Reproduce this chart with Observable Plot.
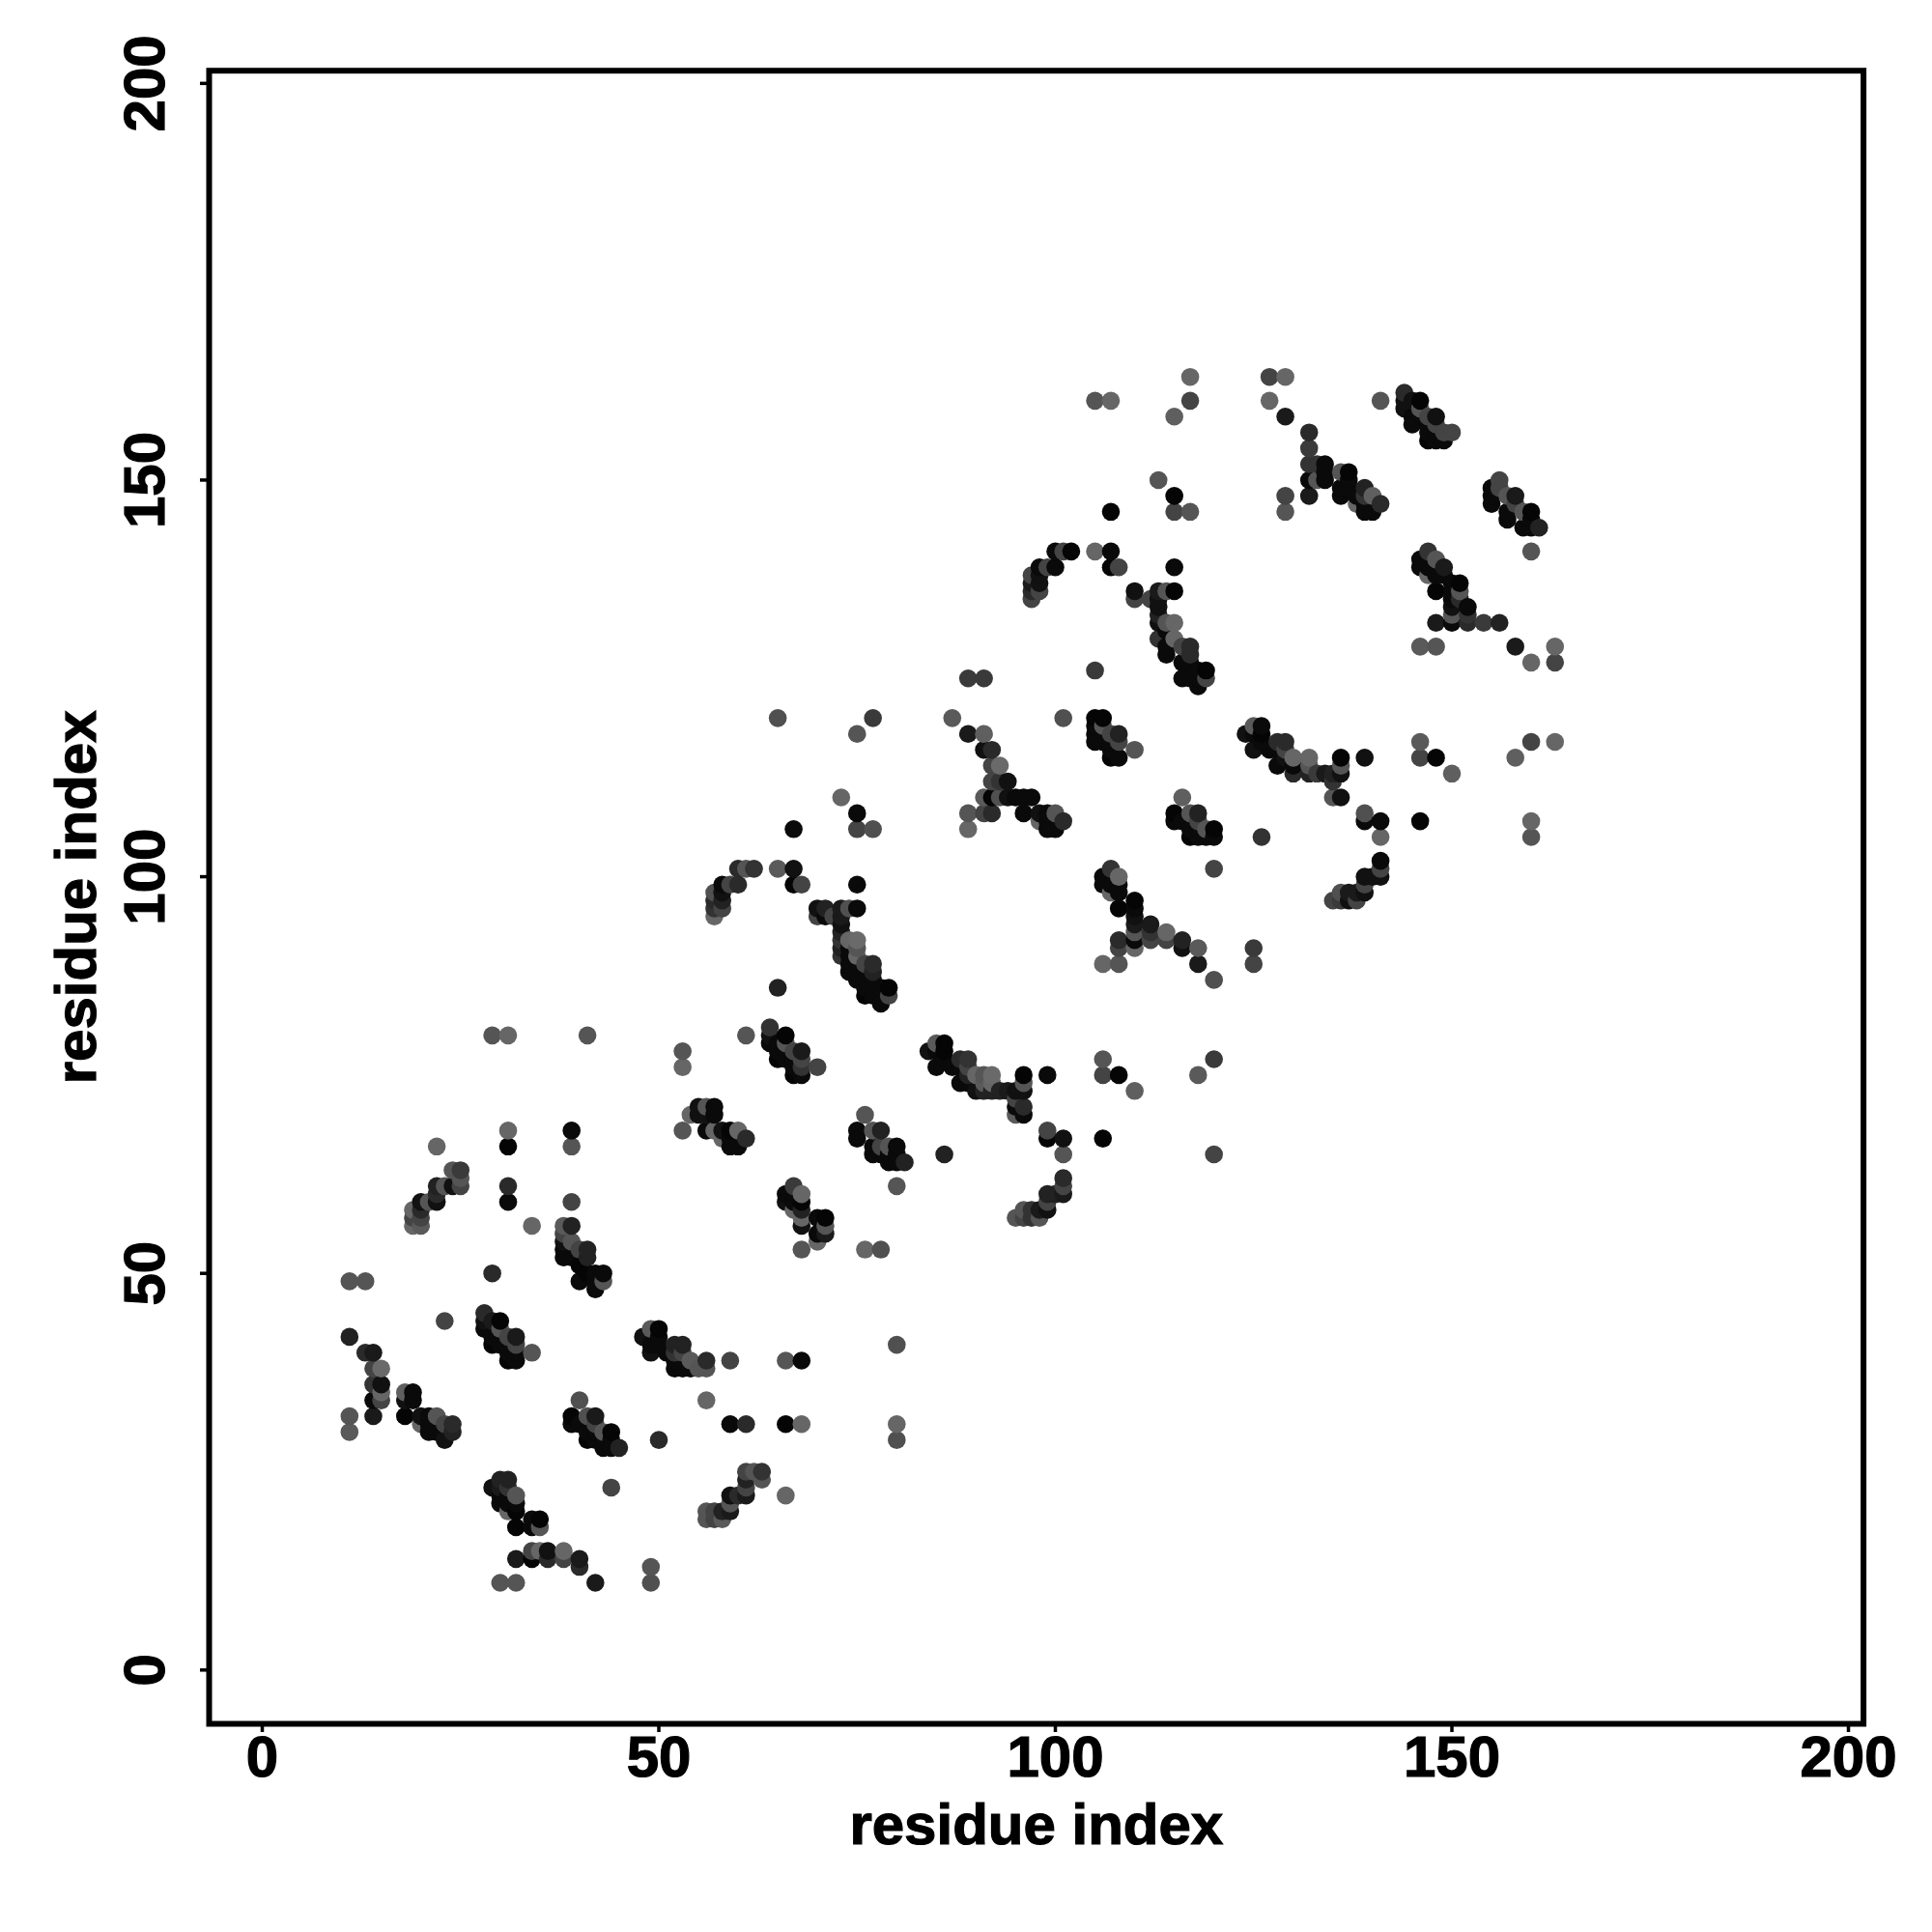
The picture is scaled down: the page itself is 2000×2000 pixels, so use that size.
<!DOCTYPE html>
<html>
<head>
<meta charset="utf-8">
<style>html,body{margin:0;padding:0;background:#fff}
svg text{stroke:#000;stroke-width:1.2px}</style>
<script src="https://cdn.jsdelivr.net/npm/d3@7"></script>
<script src="https://cdn.jsdelivr.net/npm/@observablehq/plot@0.6"></script>
</head>
<body>
<script>
// Each contact: [residue x, residue y, grey level]
const c1 = [[11,49,85],[13,49,85],[11,42,34],[13,40,42],[14,40,26],[14,38,68],[15,38,106],[14,36,51],[15,36,17],[15,35,102],[14,34,10],[15,34,68],[14,32,26],[11,32,85],[11,30,90]];
const c2 = [[18,35,95],[19,35,10],[19,34,10],[18,34,17],[18,32,5],[20,32,17],[21,32,10],[22,32,85],[20,31,102],[21,31,10],[21,30,10],[23,31,68],[24,31,42],[24,30,34],[23,29,17],[22,30,10]];
const c3 = [[28,45,42],[28,44,17],[28,43,10],[29,44,26],[30,44,5],[30,43,85],[29,42,10],[29,41,5],[31,42,68],[32,42,26],[32,41,68],[30,41,10],[31,40,10],[31,39,5],[32,40,10],[32,39,10],[34,40,85],[29,50,42],[23,44,68]];
const c4 = [[38,56,90],[39,56,34],[38,55,68],[39,54,85],[38,54,17],[38,53,10],[38,52,10],[40,53,68],[41,53,34],[41,52,34],[39,52,10],[40,51,5],[40,49,10],[41,50,5],[43,50,10],[43,49,85],[42,48,10],[42,50,10],[42,49,10],[39,59,68],[31,59,10],[31,61,42],[34,56,102]];
const c5 = [[29,80,85],[31,80,102],[41,80,85],[31,68,102],[31,66,5],[39,68,10],[39,66,85],[22,66,102],[24,63,85],[25,63,58],[25,62,85],[24,61,17],[25,61,68],[22,61,34],[23,61,85],[22,60,42],[22,59,17],[20,59,17],[21,59,85],[19,58,102],[20,58,42],[19,57,68],[20,57,68],[19,56,102],[20,56,90]];
const c6 = [[53,78,85],[53,76,102],[61,80,85],[54,70,102],[55,71,17],[55,70,17],[56,71,85],[57,71,10],[57,70,10],[56,70,17],[53,68,85],[56,68,10],[57,68,102],[58,68,17],[59,68,5],[60,68,102],[58,67,102],[59,67,10],[61,67,42],[59,66,10],[60,66,10]];
const c7 = [[48,42,17],[49,43,90],[50,43,5],[50,42,10],[49,41,10],[49,40,17],[50,41,10],[52,41,34],[53,41,34],[51,40,10],[52,40,51],[53,40,68],[54,39,90],[52,38,10],[53,38,10],[54,38,10],[52,39,10],[55,38,85],[56,39,42],[56,38,85],[59,39,68],[56,34,102],[59,31,10],[61,31,42],[50,29,42],[44,23,68]];
const c8 = [[66,39,85],[68,39,10],[80,41,80],[66,31,5],[68,31,102],[80,31,102],[80,29,80],[66,22,102],[49,13,85],[49,11,80],[68,53,85],[70,54,102],[76,53,102],[78,53,80],[80,61,85]];
const c9 = [[67,61,58],[66,60,10],[68,60,102],[66,59,17],[67,59,10],[68,59,5],[67,58,102],[68,58,34],[68,57,102],[68,56,17],[70,57,10],[71,57,5],[71,56,85],[70,55,10],[71,55,26]];
const c10 = [[76,70,85],[75,68,10],[75,67,10],[77,68,85],[78,68,34],[77,66,10],[77,65,10],[78,66,68],[78,65,10],[79,65,10],[79,66,85],[79,64,10],[80,66,10],[80,65,10],[81,64,34],[80,64,10],[86,65,34]];
const c11 = [[84,78,17],[85,79,90],[86,79,5],[86,78,5],[85,78,10],[85,76,10],[86,77,10],[88,77,42],[89,77,51],[87,76,10],[88,76,10],[89,76,68],[88,74,10],[89,74,10],[89,75,34],[90,75,102],[91,75,85],[92,75,106],[90,73,17],[91,74,90],[92,74,102],[91,73,34],[92,73,34],[93,73,34],[94,73,26],[95,73,17],[96,73,17],[96,75,5],[96,74,85],[95,72,68],[95,71,10],[96,71,42],[95,70,90],[96,70,10],[99,75,10]];
const c12 = [[106,77,85],[106,75,68],[108,75,5],[110,73,95],[118,75,90],[120,77,58],[99,68,68],[99,67,5],[101,67,17],[101,65,85],[106,67,5],[120,65,68]];
const c13 = [[101,62,42],[101,61,68],[101,60,26],[99,60,34],[100,60,34],[99,59,68],[99,58,17],[98,58,26],[97,58,51],[96,58,85],[95,57,85],[96,57,68],[97,57,51],[98,57,85]];
const c14 = [[65,120,80],[77,120,58],[75,118,85],[87,120,90],[89,118,26],[91,118,95],[73,110,102],[75,108,10],[75,106,68],[77,106,80],[67,106,10]];
const c15 = [[91,116,17],[92,116,42],[92,114,68],[93,114,106],[92,112,68],[93,112,51],[94,112,17],[91,110,90],[92,110,5],[93,110,80],[94,110,17],[95,110,10],[96,110,10],[97,110,10],[89,108,85],[91,108,68],[92,108,42],[96,108,10],[89,106,102],[98,108,17],[99,108,10],[100,108,85],[98,107,102],[99,107,10],[99,106,10],[100,106,10],[101,107,42],[89,125,58],[91,125,58],[105,126,58],[101,120,80]];
const c16 = [[105,120,5],[106,120,5],[105,119,10],[105,118,10],[105,117,10],[106,119,85],[106,118,10],[106,117,10],[107,118,68],[108,118,34],[107,117,10],[108,117,68],[107,115,5],[108,115,10],[107,116,10],[110,116,85]];
const c17 = [[116,110,95],[115,108,5],[115,107,10],[117,108,85],[118,108,34],[118,107,68],[117,105,5],[119,106,85],[118,105,10],[120,106,5],[120,105,10],[119,105,10],[120,101,68],[116,107,10],[117,106,10],[118,106,10]];
const c18 = [[107,101,51],[106,100,10],[108,100,102],[106,99,10],[107,99,10],[108,99,10],[107,98,102],[108,98,10],[108,96,5],[110,97,5],[110,96,10],[110,95,17],[110,94,26],[112,94,26],[110,93,85],[112,93,51],[114,93,102],[110,92,10],[112,92,68],[114,92,68],[108,92,42],[108,91,68],[110,91,102],[116,92,34],[116,91,17],[118,91,90],[118,89,26],[120,87,80],[106,89,102],[108,89,85]];
const c19 = [[125,91,58],[125,89,68],[126,105,51]];
const c20 = [[124,118,17],[125,119,90],[126,119,10],[126,118,5],[125,118,10],[125,116,17],[126,117,10],[128,117,42],[129,117,42],[127,116,10],[128,116,10],[129,116,68],[128,114,10],[129,115,17],[130,115,102],[130,114,10],[130,113,42],[132,115,102],[132,114,85],[132,113,34],[133,113,58],[134,113,26],[135,113,34],[136,113,17],[136,115,5],[136,114,85],[135,112,51],[135,110,85],[136,110,17],[139,115,17],[139,108,80],[139,107,10],[141,107,10],[141,105,102],[146,117,90],[146,115,68],[148,115,5],[150,113,95],[146,107,5],[158,115,95],[160,117,68],[163,117,102],[160,107,102],[160,105,85]];
const c21 = [[141,102,10],[141,101,68],[141,100,17],[139,100,17],[140,100,17],[139,99,68],[139,98,17],[138,98,26],[137,98,26],[136,98,80],[135,97,68],[136,97,58],[137,97,17],[138,97,68]];
const c22 = [[105,160,85],[107,160,102],[117,163,102],[117,160,68],[115,158,95],[127,163,68],[129,163,102],[127,160,102],[129,158,26],[113,150,85],[115,148,5],[115,146,68],[117,146,85],[107,146,5],[129,148,68],[129,146,85]];
const c23 = [[100,141,10],[101,141,68],[102,141,5],[105,141,102],[107,141,10],[100,139,10],[99,139,68],[98,139,10],[98,138,17],[97,138,68],[98,137,17],[97,137,26],[98,136,68],[97,136,42],[97,135,68],[107,139,5],[108,139,68]];
const c24 = [[115,139,10],[110,136,17],[110,135,68],[112,135,68],[113,136,26],[114,136,85],[115,136,5],[113,135,17],[113,134,17],[113,133,34],[113,132,17],[114,132,85],[115,132,102],[113,130,51],[114,131,10],[115,130,102],[114,129,10],[114,128,10],[116,129,68],[117,129,42],[117,128,42],[116,127,10],[116,125,10],[117,127,10],[119,126,5],[119,125,68],[118,124,10],[117,125,10],[118,126,10],[118,125,10]];
const c25 = [[132,156,42],[132,154,58],[132,152,51],[133,152,51],[134,152,10],[132,150,10],[133,150,85],[134,151,10],[134,150,10],[132,148,26],[136,151,85],[137,151,5],[137,150,10],[136,149,10],[136,148,10],[137,149,10],[139,149,34],[139,148,51],[140,148,95],[138,147,102],[138,148,10],[139,146,10],[140,146,10],[141,147,42],[139,147,10],[141,160,85]];
const c26 = [[144,161,42],[144,160,17],[144,159,17],[145,160,17],[146,160,5],[146,159,85],[145,158,10],[145,157,10],[147,158,68],[148,158,17],[147,157,10],[148,157,68],[147,156,10],[147,155,5],[148,155,10],[149,155,10],[149,156,68],[150,156,68]];
const c27 = [[156,150,68],[155,149,10],[156,149,68],[155,148,10],[155,147,10],[157,148,85],[158,148,26],[157,145,10],[157,146,10],[158,147,68],[159,146,85],[160,146,5],[160,145,10],[159,144,10],[160,144,10],[161,144,34],[160,141,85]];
const c28 = [[147,141,51],[146,140,10],[148,140,85],[146,139,10],[147,139,10],[149,139,26],[147,138,102],[148,138,10],[148,136,5],[149,138,10],[150,137,10],[151,137,5],[151,136,85],[150,136,10],[150,135,10],[150,134,17],[151,135,42],[150,133,85],[152,134,10],[152,133,51],[148,132,26],[150,132,10],[152,132,42],[154,132,58],[156,132,34],[146,129,90],[148,129,85],[158,129,26],[163,129,102],[160,127,102],[163,127,68]];
const c29 = [[60,101,42],[61,101,85],[62,101,51],[65,101,90],[67,101,17],[60,99,42],[59,99,68],[58,99,10],[58,98,17],[57,98,80],[58,97,34],[57,97,42],[57,96,51],[58,96,68],[57,95,102],[67,99,5],[68,99,68],[75,99,10]];
const c30 = [[70,96,17],[71,96,34],[70,95,68],[71,95,10],[72,95,68],[73,96,26],[74,96,80],[75,96,10],[73,95,26],[73,94,17],[73,93,34],[73,92,51],[74,92,102],[75,92,106],[73,91,34],[73,90,51],[74,91,10],[75,91,85],[74,90,10],[74,88,10],[75,90,102],[74,89,10],[76,89,68],[77,89,42],[77,88,34],[76,87,10],[76,85,5],[79,86,5],[79,85,68],[78,84,10],[77,85,10],[77,86,10],[78,86,10],[78,85,10],[65,86,34],[75,88,10],[75,87,10],[76,86,10],[77,87,10]];
const c31 = [[64,81,51],[64,80,17],[64,79,10],[66,80,5],[66,79,85],[65,78,10],[65,77,5],[67,78,68],[68,78,26],[68,77,68],[67,76,10],[67,75,5],[68,76,51],[68,75,10],[70,76,68],[65,79,10],[66,77,10],[66,78,10],[67,77,10]];
const c32 = [[40,34,80],[39,32,5],[39,31,10],[41,32,80],[42,32,26],[42,31,68],[41,29,5],[40,31,10],[41,30,10],[43,30,85],[44,30,5],[44,29,10],[43,28,10],[44,28,10],[45,28,34],[42,30,10],[42,29,10],[43,29,10]];
const c33 = [[30,24,34],[31,24,34],[29,23,17],[30,23,26],[31,23,51],[32,22,85],[30,22,10],[30,21,10],[31,21,10],[32,21,10],[31,20,102],[32,20,5],[32,18,5],[34,19,10],[35,19,5],[34,18,10],[35,18,85],[31,22,10]];
const c34 = [[32,14,26],[34,15,68],[35,15,102],[36,15,17],[38,15,102],[34,14,5],[36,14,42],[38,14,68],[40,14,26],[40,13,42],[42,11,26],[30,11,85],[32,11,85]];
const c35 = [[56,20,85],[56,19,85],[57,20,68],[57,19,68],[58,20,34],[58,19,90],[59,20,26],[59,22,17],[59,21,85],[60,22,42],[61,22,26],[61,23,68],[61,24,34],[61,25,68],[62,25,85],[63,25,51],[63,24,85]];

const tickValues = [0, 50, 100, 150, 200];
const axisLabel = "residue index";

const clusters = [c1,c2,c3,c4,c5,c6,c7,c8,c9,c10,c11,c12,c13,c14,c15,c16,c17,c18,c19,c20,c21,c22,c23,c24,c25,c26,c27,c28,c29,c30,c31,c32,c33,c34,c35];
const contacts = clusters.flat()
  .map(([x, y, g]) => ({x, y, shade: `rgb(${g},${g},${g})`}))
  .sort((a, b) => d3.ascending(a.x, b.x) || d3.ascending(a.y, b.y));

const font = "'Liberation Sans', Arial, sans-serif";
const chart = Plot.plot({
  width: 2000,
  height: 2000,
  marginLeft: 216,
  marginRight: 71.4,
  marginTop: 72.7,
  marginBottom: 216,
  style: {background: "#fff", fontFamily: font},
  x: {domain: [-6.7, 201.9]},
  y: {domain: [-6.78, 201.6]},
  color: {type: "identity"},
  marks: [
    Plot.dot(contacts, {x: "x", y: "y", r: 9.3, fill: "shade", stroke: "none"}),
    Plot.axisX({
      ticks: tickValues, tickSize: 9, tickPadding: 3, strokeWidth: 3.5,
      fontSize: 60, fontWeight: "bold", fontFamily: font, fill: "#000", stroke: "#000",
      label: axisLabel, labelAnchor: "center", labelArrow: "none", labelOffset: 124.5, tickFormat: d3.format("d")
    }),
    Plot.axisY({
      ticks: tickValues, tickSize: 9, tickPadding: 38, strokeWidth: 3.5, tickRotate: -90,
      fontSize: 60, fontWeight: "bold", fontFamily: font, fill: "#000", stroke: "#000",
      label: axisLabel, labelAnchor: "center", labelArrow: "none", labelOffset: 160, tickFormat: d3.format("d")
    }),
    Plot.frame({stroke: "#000", strokeWidth: 6})
  ]
});
document.body.appendChild(chart);
</script>
</body>
</html>
